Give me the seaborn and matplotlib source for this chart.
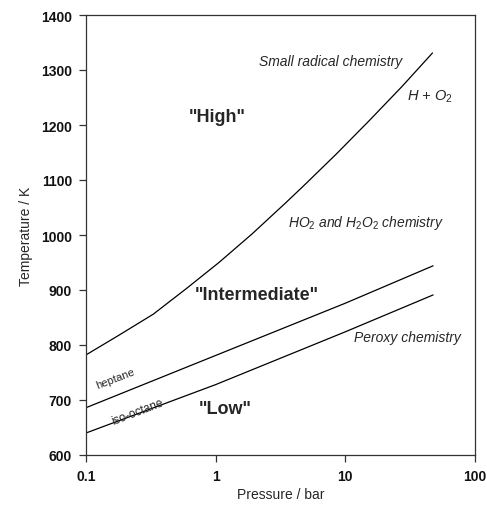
import matplotlib
matplotlib.use("Agg")
import matplotlib.pyplot as plt
import seaborn as sns
import pandas as pd
import numpy as np

# Data
p_high = [0.1, 0.18, 0.33, 0.59, 1.06, 1.91, 3.45, 4.7, 8.5, 15.3, 27.6, 47.0]
t_high = [782, 818, 856, 902, 950, 1002, 1058, 1088, 1147, 1208, 1271, 1331]
p_heptane = [0.1, 1.0, 10.0, 47.5]
t_heptane = [686, 781, 876, 944]
p_isooctane = [0.1, 1.0, 10.0, 47.5]
t_isooctane = [640, 728, 824, 891]
x_ticks = [0.1, 1, 10, 100]
x_ticklabels = ["0.1", "1", "10", "100"]
y_ticks = [600, 700, 800, 900, 1000, 1100, 1200, 1300, 1400]

sns.set_style("ticks")
plt.rcParams['font.family'] = ['Liberation Sans', 'DejaVu Sans']
plt.rcParams['mathtext.fontset'] = 'custom'
plt.rcParams['mathtext.it'] = 'Liberation Sans:italic'
plt.rcParams['mathtext.rm'] = 'Liberation Sans'

fig = plt.figure(figsize=(4.87, 5.06), dpi=100)
ax = fig.add_axes([86/487, 1-456/506, (475-86)/487, (456-16)/506])

for p, t in [(p_high, t_high), (p_heptane, t_heptane), (p_isooctane, t_isooctane)]:
    df = pd.DataFrame({"P": p, "T": t})
    sns.lineplot(data=df, x="P", y="T", ax=ax, color="black", linewidth=0.9, sort=False)

ax.set_xscale("log")
ax.set_xlim(0.1, 100)
ax.set_ylim(600, 1400)
ax.set_xticks(x_ticks)
ax.set_xticklabels(x_ticklabels)
ax.xaxis.set_minor_locator(matplotlib.ticker.NullLocator())
ax.set_yticks(y_ticks)
ax.tick_params(axis="both", direction="out", length=5, width=0.9, labelsize=10, color="#333333", labelcolor="#111111")
ax.tick_params(axis="y", pad=5)
ax.tick_params(axis="x", pad=5)
for lab in ax.get_xticklabels() + ax.get_yticklabels():
    lab.set_fontweight("bold")
for s in ax.spines.values():
    s.set_visible(True)
    s.set_linewidth(0.9)
    s.set_color("#333333")

ax.set_xlabel("Pressure / bar", fontsize=10, labelpad=3)
ax.set_ylabel("Temperature / K", fontsize=10, labelpad=6)

# Region labels
ax.text(1.02, 1215, '"High"', fontsize=13, fontweight="bold", ha="center", va="center")
ax.text(2.07, 891, '"Intermediate"', fontsize=13, fontweight="bold", ha="center", va="center")
ax.text(1.19, 684, '"Low"', fontsize=13, fontweight="bold", ha="center", va="center")

ax.text(7.7, 1316, "Small radical chemistry", fontsize=10, style="italic", ha="center", va="center")
ax.text(45.0, 1253, r"$H$ + O$_2$", fontsize=10.5, style="italic", ha="center", va="center")
ax.text(14.3, 1024, r"$HO_2$ and $H_2O_2$ chemistry", fontsize=10, style="italic", ha="center", va="center")
ax.text(30.0, 815, "Peroxy chemistry", fontsize=10, style="italic", ha="center", va="center")

ax.text(0.17, 740, "heptane", fontsize=8, rotation=21, ha="center", va="center")
ax.text(0.25, 679, "iso-octane", fontsize=8.5, rotation=21, ha="center", va="center")

fig.savefig("out.png", dpi=100)
